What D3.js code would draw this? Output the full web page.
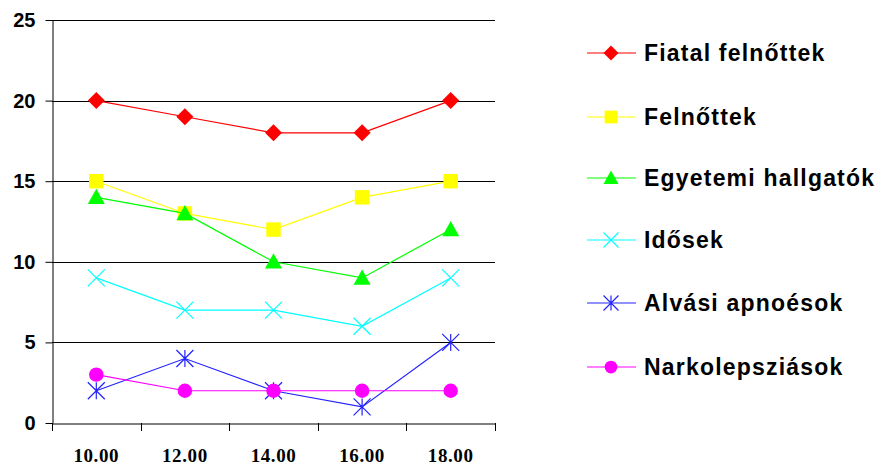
<!DOCTYPE html>
<html><head><meta charset="utf-8">
<script src="https://cdn.jsdelivr.net/npm/d3@7"></script>
<style>body{margin:0;background:#fff}svg{display:block}</style>
</head><body><svg id="c" width="890" height="466"></svg>
<script>
const categories = ["10.00","12.00","14.00","16.00","18.00"];
const seriesNames = ["Fiatal felnőttek","Felnőttek","Egyetemi hallgatók","Idősek","Alvási apnoésok","Narkolepsziások"];
const fiatal = [20,19,18,18,20];
const felnottek = [15,13,12,14,15];
const egyetemi = [14,13,10,9,12];
const idosek = [9,7,7,6,9];
const alvasi = [2,4,2,1,5];
const narko = [3,2,2,2,2];
const yTicks = [0,5,10,15,20,25];
const colors = ["#ff0000","#ffff00","#00ff00","#00ffff","#2222ff","#ff00ff"];
const markers = ["diamond","square","triangle","x","star","circle"];
const seriesValues = [fiatal,felnottek,egyetemi,idosek,alvasi,narko];

const svg = d3.select("#c");
const L=52,R=495,T=20,B=423;
const x = d3.scaleBand().domain(categories).range([L,R]);
const y = d3.scaleLinear().domain([0,25]).range([B,T]);

// gridlines
svg.append("g").selectAll("line").data(yTicks.filter(d=>d>0)).join("line")
  .attr("x1",L).attr("x2",R).attr("y1",d=>Math.round(y(d))+0.5).attr("y2",d=>Math.round(y(d))+0.5)
  .attr("stroke","#000").attr("stroke-width",1);

// y axis
const ya = svg.append("g").attr("transform",`translate(${L+0.5},0)`)
  .call(d3.axisLeft(y).tickValues(yTicks).tickSize(7).tickPadding(10).tickSizeOuter(0));
ya.select(".domain").attr("stroke","#000");
ya.selectAll("text").attr("font-family","Liberation Sans, Arial, sans-serif").attr("font-weight","bold").attr("font-size","20px").attr("fill","#000");

// x axis
const xa = svg.append("g").attr("transform",`translate(0,${B+0.5})`)
  .call(d3.axisBottom(x).tickSize(0).tickPadding(25).tickSizeOuter(0));
xa.select(".domain").attr("stroke","#000");
xa.selectAll("text").attr("font-family","Liberation Serif, Times New Roman, serif").attr("font-weight","bold").attr("font-size","19px").attr("letter-spacing","0.6px").attr("fill","#000");
// band boundary ticks
svg.append("g").selectAll("line").data(categories).join("line")
  .attr("x1",d=>Math.round(x(d)+x.bandwidth())+0.5).attr("x2",d=>Math.round(x(d)+x.bandwidth())+0.5)
  .attr("y1",B).attr("y2",B+8).attr("stroke","#000");
svg.append("line").attr("x1",L+0.5).attr("x2",L+0.5).attr("y1",B).attr("y2",B+8).attr("stroke","#000");

function drawMarker(g,type,cx,cy,color,s){
  if(type==="diamond"){
    g.append("path").attr("d",`M${cx},${cy-s}L${cx+s},${cy}L${cx},${cy+s}L${cx-s},${cy}Z`).attr("fill",color);
  } else if(type==="square"){
    const h=s*0.85;
    g.append("rect").attr("x",cx-h).attr("y",cy-h).attr("width",2*h).attr("height",2*h).attr("fill",color);
  } else if(type==="triangle"){
    g.append("path").attr("d",`M${cx},${cy-s}L${cx+s},${cy+s*0.8}L${cx-s},${cy+s*0.8}Z`).attr("fill",color);
  } else if(type==="circle"){
    g.append("circle").attr("cx",cx).attr("cy",cy).attr("r",s*0.85).attr("fill",color);
  } else if(type==="x"){
    g.append("path").attr("d",`M${cx-s},${cy-s}L${cx+s},${cy+s}M${cx-s},${cy+s}L${cx+s},${cy-s}`).attr("stroke",color).attr("stroke-width",1.2).attr("fill","none");
  } else if(type==="star"){
    g.append("path").attr("d",`M${cx-s},${cy-s}L${cx+s},${cy+s}M${cx-s},${cy+s}L${cx+s},${cy-s}M${cx},${cy-s}L${cx},${cy+s}`).attr("stroke",color).attr("stroke-width",1.2).attr("fill","none");
  }
}

const cxs = d => x(d)+x.bandwidth()/2;
const line = d3.line().x((d,i)=>cxs(categories[i])).y(d=>y(d));
seriesValues.forEach((vals,si)=>{
  const g = svg.append("g");
  g.append("path").datum(vals).attr("d",line).attr("fill","none").attr("stroke",colors[si]).attr("stroke-width",1.2);
  vals.forEach((v,i)=>drawMarker(g,markers[si],cxs(categories[i]),y(v),colors[si],8.5));
});

// legend
const legY = [53,117,178,240,303,367];
seriesNames.forEach((n,i)=>{
  const g = svg.append("g");
  g.append("line").attr("x1",587).attr("x2",636).attr("y1",legY[i]).attr("y2",legY[i]).attr("stroke",colors[i]).attr("stroke-width",1.2);
  drawMarker(g,markers[i],611,legY[i],colors[i],7.5);
  g.append("text").attr("x",644).attr("y",legY[i]).attr("dy","0.36em").text(n)
   .attr("font-family","Liberation Sans, Arial, sans-serif").attr("font-weight","bold").attr("font-size","23px").attr("letter-spacing","1.2px").attr("fill","#000");
});
</script></body></html>
